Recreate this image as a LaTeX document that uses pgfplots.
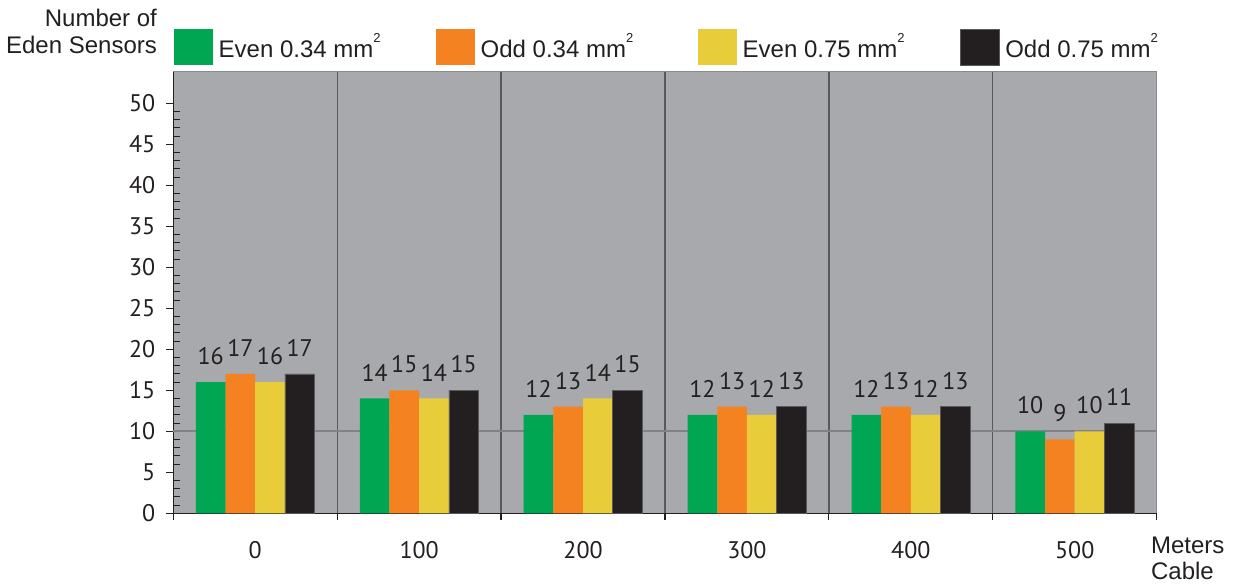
\documentclass[border=0pt]{standalone}
\usepackage{pgfplots}
\usepackage{pgfplotstable}
\pgfplotsset{compat=1.18}
\usepackage{fontspec}
\setmainfont{Liberation Sans}
\newfontfamily\pts{PT Sans}
\definecolor{cgreen}{HTML}{00A651}
\definecolor{corange}{HTML}{F58220}
\definecolor{cyellow}{HTML}{E8CC3A}
\definecolor{cblack}{HTML}{231F20}
\definecolor{cbg}{HTML}{A7A9AC}
\definecolor{cgrid}{HTML}{58595B}
\definecolor{cref}{HTML}{808285}
\definecolor{cborder}{HTML}{8A8B8E}

\pgfplotstableread{
x a b c d
0 16 17 16 17
1 14 15 14 15
2 12 13 14 15
3 12 13 12 13
4 12 13 12 13
5 10 9 10 11
}\datatable

\pgfplotsset{mylegend/.style={legend image code/.code={\fill[##1] (0pt,-9pt) rectangle (19.5pt,9pt);}}}
\newcommand{\sq}{\raisebox{0.62em}{\fontsize{6.5}{7}\selectfont 2}}

\begin{document}
\begin{tikzpicture}
\begin{axis}[
 scale only axis, width=491.7pt, height=220.8pt,
 xmin=-0.5, xmax=5.5, ymin=0, ymax=53.85,
 clip=false,
 ybar=0pt, bar width=0.181,
 axis background/.style={fill=cbg},
 axis x line*=bottom, axis y line*=left,
 axis line style={cblack, line width=0.6pt},
 tick align=outside,
 xtick={-0.5,0.5,...,5.5}, xticklabels={},
 extra x ticks={0,...,5}, extra x tick labels={0,100,200,300,400,500},
 extra x tick style={grid=none, major tick style={draw=none}},
 xmajorgrids=true,
 major grid style={cgrid, line width=0.65pt},
 major tick length=3.5pt, minor tick length=-3.3pt,
 ytick={0,5,...,50},
 minor y tick num=4,
 minor y tick style={cblack, line width=0.5pt},
 major tick style={cblack, line width=0.6pt},
 extra y ticks={10}, extra y tick labels={},
 extra y tick style={grid=major, major grid style={cref, line width=1.1pt}},
 /pgf/number format/assume math mode=true,
 ticklabel style={font=\pts\fontsize{12}{14}\selectfont, text=cblack},
 xticklabel style={yshift=-7pt},
 yticklabel style={xshift=-2pt},
 nodes near coords,
 nodes near coords style={font=\pts\fontsize{12}{14}\selectfont, text=cblack, anchor=south, inner sep=0pt, yshift=8.5pt},
 legend style={at={(0,1)}, anchor=south west, yshift=3pt, draw=none, fill=none, inner sep=0pt,
   font=\fontsize{12}{14}\selectfont, text=cblack, nodes={inner sep=0pt, anchor=west}, column sep=0pt},
 legend columns=4,
]
\addplot[fill=cgreen, draw=none, mylegend] table[x=x, y=a] {\datatable};
\addlegendentry{\makebox[111.5pt][l]{\hspace{3pt}Even 0.34 mm\sq}}
\addplot[fill=corange, draw=none, mylegend] table[x=x, y=b] {\datatable};
\addlegendentry{\makebox[111.5pt][l]{\hspace{3pt}Odd 0.34 mm\sq}}
\addplot[fill=cyellow, draw=none, mylegend] table[x=x, y=c] {\datatable};
\addlegendentry{\makebox[111.5pt][l]{\hspace{3pt}Even 0.75 mm\sq}}
\addplot[fill=cblack, draw=cgrid, line width=0.3pt, mylegend] table[x=x, y=d] {\datatable};
\addlegendentry{\makebox[111.5pt][l]{\hspace{3pt}Odd 0.75 mm\sq}}
\draw[cborder, line width=0.6pt] (rel axis cs:0,1) -- (rel axis cs:1,1) -- (rel axis cs:1,0);
\node[anchor=base east, inner sep=0pt, font=\fontsize{12}{14}\selectfont, text=cblack] at ([xshift=-8pt, yshift=9.2pt]rel axis cs:0,1) {Eden Sensors};
\node[anchor=base east, inner sep=0pt, font=\fontsize{12}{14}\selectfont, text=cblack] at ([xshift=-8pt, yshift=22.5pt]rel axis cs:0,1) {Number of};
\node[anchor=base west, inner sep=0pt, font=\fontsize{12}{14}\selectfont, text=cblack] at ([xshift=-3pt, yshift=-20pt]rel axis cs:1,0) {Meters};
\node[anchor=base west, inner sep=0pt, font=\fontsize{12}{14}\selectfont, text=cblack] at ([xshift=-3pt, yshift=-33.3pt]rel axis cs:1,0) {Cable};
\end{axis}
\pgfresetboundingbox
\useasboundingbox (-86.65pt,-35.35pt) rectangle (529.85pt,256.65pt);
\end{tikzpicture}
\end{document}
